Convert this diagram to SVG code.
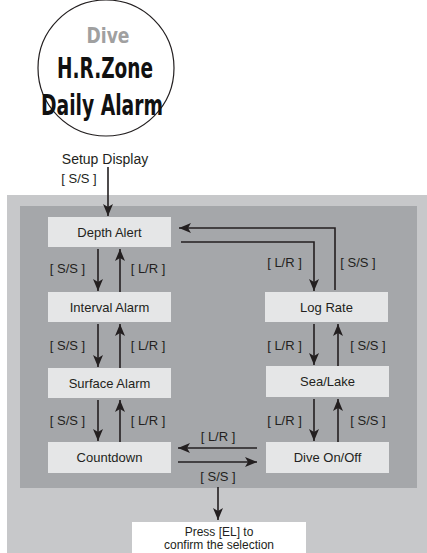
<svg xmlns="http://www.w3.org/2000/svg" width="427" height="553" viewBox="0 0 427 553">
<defs>
<marker id="ah" viewBox="0 0 12 10" refX="12" refY="5" markerWidth="12" markerHeight="10" markerUnits="userSpaceOnUse" orient="auto">
<path d="M0,0 L12,5 L0,10 L3,5 z" fill="#231f20"/>
</marker>
<style>
.nd{fill:#e5e6e7}
.nt{font-family:"Liberation Sans",Arial,sans-serif;font-size:13px;fill:#231f20;text-anchor:middle}
.lb{font-family:"Liberation Sans",Arial,sans-serif;font-size:13px;fill:#231f20;text-anchor:middle}
.cn{fill:none;stroke:#231f20;stroke-width:1.6;marker-end:url(#ah)}
.lcd{font-family:"DejaVu Sans Condensed","DejaVu Sans",sans-serif;font-weight:bold;text-anchor:middle}
</style>
</defs>
<rect width="427" height="553" fill="#ffffff"/>
<rect x="7" y="195" width="420" height="358" fill="#c7c8ca"/>
<rect x="20" y="206" width="397" height="282" fill="#a5a7aa"/>
<g id="display">
<circle cx="106" cy="68" r="68" fill="#ffffff" stroke="#231f20" stroke-width="1.2"/>
<text class="lcd" x="108" y="43" font-size="21" fill="#a0a0a0" textLength="43" lengthAdjust="spacingAndGlyphs">Dive</text>
<text class="lcd" x="105" y="78" font-size="28" fill="#111111" textLength="96" lengthAdjust="spacingAndGlyphs">H.R.Zone</text>
<text class="lcd" x="102" y="115" font-size="28" fill="#111111" textLength="122" lengthAdjust="spacingAndGlyphs">Daily Alarm</text>
<text x="105" y="164" font-family="Liberation Sans,Arial,sans-serif" font-size="14" fill="#231f20" text-anchor="middle">Setup Display</text>
</g>
<g id="depth-alert"><rect class="nd" x="48" y="217" width="123" height="30"/><text class="nt" x="109.5" y="237">Depth Alert</text></g>
<g id="interval-alarm"><rect class="nd" x="48" y="292" width="123" height="30"/><text class="nt" x="109.5" y="312">Interval Alarm</text></g>
<g id="surface-alarm"><rect class="nd" x="48" y="368" width="123" height="30"/><text class="nt" x="109.5" y="388">Surface Alarm</text></g>
<g id="countdown"><rect class="nd" x="48" y="442" width="123" height="31"/><text class="nt" x="109.5" y="462">Countdown</text></g>
<g id="log-rate"><rect class="nd" x="265" y="292" width="123" height="30"/><text class="nt" x="326.5" y="312">Log Rate</text></g>
<g id="sea-lake"><rect class="nd" x="266" y="366" width="123" height="31"/><text class="nt" x="327.5" y="386">Sea/Lake</text></g>
<g id="dive-onoff"><rect class="nd" x="266" y="442" width="123" height="31"/><text class="nt" x="327.5" y="462">Dive On/Off</text></g>
<g id="press-el"><rect x="132" y="522" width="174" height="31" fill="#ffffff"/><text class="nt" x="219" y="535.5" style="font-size:12px">Press [EL] to</text><text class="nt" x="219" y="549" style="font-size:12px">confirm the selection</text></g>
<g id="connectors">
<path class="cn" d="M108,167 V216"/>
<path class="cn" d="M98,249 V291"/>
<path class="cn" d="M120,292 V249"/>
<path class="cn" d="M98,324 V367"/>
<path class="cn" d="M120,368 V324"/>
<path class="cn" d="M98,400 V441"/>
<path class="cn" d="M120,442 V400"/>
<path class="cn" d="M181,242 H314 V291"/>
<path class="cn" d="M335,290 V228 H179"/>
<path class="cn" d="M314,324 V365"/>
<path class="cn" d="M338,366 V324"/>
<path class="cn" d="M314,399 V441"/>
<path class="cn" d="M338,442 V399"/>
<path class="cn" d="M257,448 H178"/>
<path class="cn" d="M178,462 H257"/>
<path class="cn" d="M218,487 V520"/>
<text class="lb" x="79" y="183">[ S/S ]</text>
<text class="lb" x="67.5" y="273">[ S/S ]</text>
<text class="lb" x="148" y="273">[ L/R ]</text>
<text class="lb" x="67.5" y="350">[ S/S ]</text>
<text class="lb" x="148" y="350">[ L/R ]</text>
<text class="lb" x="67.5" y="425">[ S/S ]</text>
<text class="lb" x="148" y="425">[ L/R ]</text>
<text class="lb" x="284.5" y="267">[ L/R ]</text>
<text class="lb" x="358" y="267">[ S/S ]</text>
<text class="lb" x="284.5" y="350">[ L/R ]</text>
<text class="lb" x="368" y="350">[ S/S ]</text>
<text class="lb" x="284.5" y="425">[ L/R ]</text>
<text class="lb" x="368" y="425">[ S/S ]</text>
<text class="lb" x="218" y="441">[ L/R ]</text>
<text class="lb" x="218" y="481">[ S/S ]</text>
</g>
</svg>
